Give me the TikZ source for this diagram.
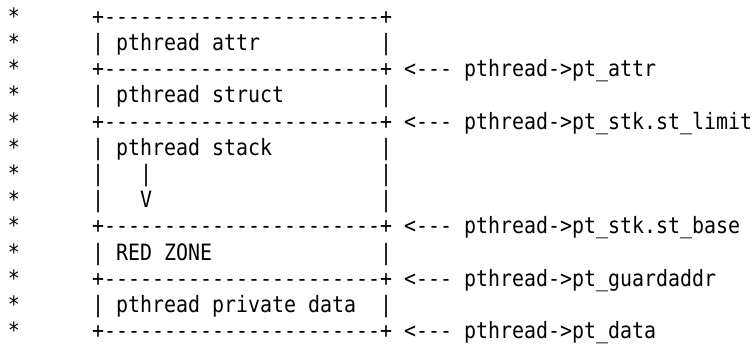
\documentclass[tikz,border=0pt]{standalone}
\usepackage{fontspec}
\newfontfamily\asciifont{DejaVu Sans Mono}[Ligatures=TeXOff, FakeStretch=0.886]

\begin{document}
\begin{tikzpicture}[x=12pt, y=-26.2pt,
        txt/.style={font={\asciifont\fontsize{22.5}{26.2}\selectfont},
          anchor=base west, inner sep=0pt, outer sep=0pt}]
     \useasboundingbox (4pt,-2.0pt) rectangle (756pt,-347.0pt);
     \node (s1) at (1,1) [txt] {*};
     \node (s2) at (1,2) [txt] {*};
     \node (s3) at (1,3) [txt] {*};
     \node (s4) at (1,4) [txt] {*};
     \node (s5) at (1,5) [txt] {*};
     \node (s6) at (1,6) [txt] {*};
     \node (s7) at (1,7) [txt] {*};
     \node (s8) at (1,8) [txt] {*};
     \node (s9) at (1,9) [txt] {*};
     \node (s10) at (1,10) [txt] {*};
     \node (s11) at (1,11) [txt] {*};
     \node (s12) at (1,12) [txt] {*};
     \node (s13) at (1,13) [txt] {*};
     \node (top) at (8,1) [txt] {+-----------------------+};
     \node (attr) at (8,2) [txt] {| pthread attr};
     \node (attrR) at (32,2) [txt] {|};
     \node (lim1) at (8,3) [txt] {+-----------------------+};
     \node (pattr) at (34,3) [txt] {<--- pthread->pt\_attr};
     \node (strct) at (8,4) [txt] {| pthread struct};
     \node (strctR) at (32,4) [txt] {|};
     \node (lim2) at (8,5) [txt] {+-----------------------+};
     \node (plimit) at (34,5) [txt] {<--- pthread->pt\_stk.st\_limit};
     \node (stack) at (8,6) [txt] {| pthread stack};
     \node (stackR) at (32,6) [txt] {|};
     \node (grL1) at (8,7) [txt] {|};
     \node (grow) at (12,7) [txt] {|};
     \node (grR1) at (32,7) [txt] {|};
     \node (grL2) at (8,8) [txt] {|};
     \node (down) at (12,8) [txt] {V};
     \node (grR2) at (32,8) [txt] {|};
     \node (lim3) at (8,9) [txt] {+-----------------------+};
     \node (pbase) at (34,9) [txt] {<--- pthread->pt\_stk.st\_base};
     \node (red) at (8,10) [txt] {| RED ZONE};
     \node (redR) at (32,10) [txt] {|};
     \node (lim4) at (8,11) [txt] {+-----------------------+};
     \node (pguard) at (34,11) [txt] {<--- pthread->pt\_guardaddr};
     \node (priv) at (8,12) [txt] {| pthread private data};
     \node (privR) at (32,12) [txt] {|};
     \node (bot) at (8,13) [txt] {+-----------------------+};
     \node (pdata) at (34,13) [txt] {<--- pthread->pt\_data};
    \end{tikzpicture}
\end{document}
